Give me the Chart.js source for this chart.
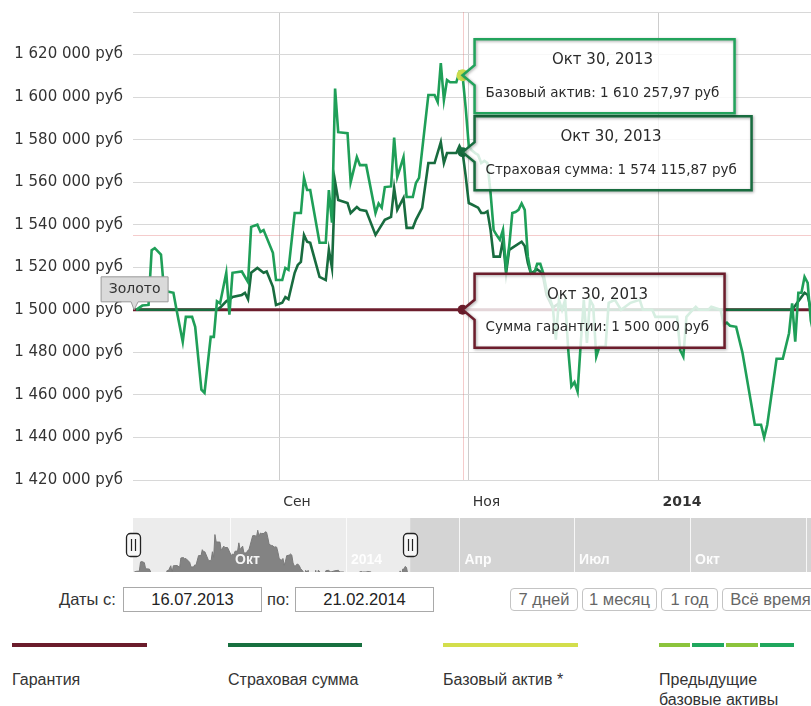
<!DOCTYPE html>
<html>
<head>
<meta charset="utf-8">
<script src="https://cdn.jsdelivr.net/npm/chart.js@4.4.0/dist/chart.umd.min.js"></script>
<style>
  body { margin: 0; width: 811px; height: 706px; overflow: hidden; background: #fff; position: relative;
         font-family: "Liberation Sans", Arial, sans-serif; color: #333; }
  #main { position: absolute; left: 0; top: -7px; }
  #nav { position: absolute; left: 0; top: 518px; }
  .txt { position: absolute; font-size: 16.5px; white-space: nowrap; }
  .inp { position: absolute; height: 23px; line-height: 23px; border: 1px solid #a9a9a9; text-align: center;
         font-size: 16.5px; color: #222; background: #fff; }
  .btn { position: absolute; top: 588px; height: 21px; line-height: 21px; border: 1px solid #c4c4c4; border-radius: 4px;
         font-size: 16.5px; color: #666; text-align: center; background: #fff; }
  .leg { position: absolute; top: 643px; height: 4px; }
  .legtxt { position: absolute; top: 670px; font-size: 16px; line-height: 20px; color: #333; }
</style>
</head>
<body>
<canvas id="main" width="817" height="522"></canvas>
<canvas id="nav" width="811" height="55"></canvas>

<div class="txt" style="left:59px;top:590px">Даты с:</div>
<div class="inp" id="from" style="left:123px;top:587px;width:137px"></div>
<div class="txt" style="left:267px;top:590px">по:</div>
<div class="inp" id="to" style="left:295px;top:587px;width:137px"></div>

<div class="leg" style="left:12px;width:135px;background:#6b1c2b"></div>
<div class="leg" style="left:228px;width:134px;background:#17703f"></div>
<div class="leg" style="left:443px;width:135px;background:#d3de4c"></div>
<div class="leg" style="left:659px;width:135px;background:linear-gradient(to right,#8cc43c 0 31px,#fff 31px 33px,#1fa75d 33px 65px,#fff 65px 67px,#8cc43c 67px 99px,#fff 99px 101px,#1fa75d 101px 135px)"></div>
<div class="legtxt" style="left:12px">Гарантия</div>
<div class="legtxt" style="left:228px">Страховая сумма</div>
<div class="legtxt" style="left:443px">Базовый актив *</div>
<div class="legtxt" style="left:659px">Предыдущие<br>базовые активы</div>

<script>
// days counted from 16.07.2013
const baseDays = [1, 3, 5, 6, 7, 9, 10, 13, 14, 16, 17, 19, 20, 22, 23, 25, 26, 27, 28, 30,
  31, 32, 35, 37, 38, 40, 41, 42, 45, 46, 48, 49, 50, 52, 54, 55, 56, 57, 60, 62,
  63, 64, 65, 66, 69, 70, 72, 73, 75, 78, 79, 80, 81, 83, 84, 85, 87, 88, 90, 91,
  92, 95, 97, 98, 99, 100, 101, 102, 104, 105, 106, 107, 108, 109, 110, 111, 112, 113, 114, 115,
  116, 117, 118, 119, 120, 121, 122, 123, 124, 125, 126, 127, 128, 129, 130, 131, 132, 133, 135, 136,
  137, 138, 139, 140, 141, 142, 143, 144, 145, 146, 147, 148, 149, 150, 152, 153, 155, 157, 160, 163,
  164, 167, 168, 175, 176, 177, 178, 180, 181, 182, 185, 186, 189, 190, 191, 192, 194, 196, 200, 202,
  203, 204, 207, 209, 211, 212, 213, 214, 215, 216, 217, 218, 219];
const baseValues = [1500000, 1502000, 1502300, 1528000, 1529000, 1526000, 1509000, 1508000, 1500000, 1485000,
  1496700, 1496700, 1492000, 1462500, 1461000, 1487300, 1487300, 1504000, 1503000, 1517400,
  1497700, 1517400, 1518000, 1513000, 1539000, 1540000, 1536600, 1537500, 1526800, 1514000,
  1514000, 1519700, 1518800, 1545500, 1545500, 1562000, 1556300, 1556300, 1531500, 1531500,
  1556300, 1541000, 1604000, 1583500, 1583000, 1560000, 1571800, 1568000, 1568000, 1545500,
  1550000, 1548000, 1557700, 1558000, 1581000, 1562400, 1571800, 1553000, 1553000, 1559600,
  1562000, 1601000, 1601000, 1597700, 1616000, 1598600, 1608000, 1607000, 1607000, 1611700,
  1610257.97, 1595000, 1577000, 1575000, 1573700, 1572800, 1569000, 1570000, 1569000, 1555000,
  1537500, 1535000, 1532900, 1537600, 1519000, 1530000, 1545500, 1546000, 1547000, 1550000,
  1547000, 1525000, 1517000, 1517000, 1521600, 1521600, 1517000, 1509400, 1501500, 1486000,
  1504700, 1500000, 1504700, 1481000, 1464000, 1466000, 1461500, 1484000, 1504700, 1484500,
  1504700, 1502000, 1478000, 1482600, 1482600, 1503300, 1504700, 1500000, 1503300, 1504700,
  1500000, 1500000, 1496700, 1496700, 1481000, 1478000, 1496700, 1500000, 1501400, 1500000,
  1500000, 1501400, 1500000, 1493000, 1494000, 1492500, 1492000, 1480000, 1446000, 1446000,
  1440000, 1446000, 1477000, 1477000, 1489000, 1503000, 1485000, 1508000, 1508000, 1515500,
  1512700, 1495000, 1488000];

const insuredDays = [1, 27, 28, 30, 32, 35, 36, 37, 38, 40, 42, 43, 45, 46, 48, 49, 50, 52, 53, 54,
  55, 56, 57, 60, 62, 63, 64, 65, 66, 69, 70, 72, 73, 75, 78, 79, 81, 83, 84, 85,
  87, 88, 90, 91, 93, 95, 97, 99, 100, 101, 104, 105, 106, 107, 108, 109, 111, 112, 113, 114,
  115, 116, 118, 119, 120, 121, 125, 126, 127, 128, 130, 131, 132, 133, 135, 137, 138, 212, 214, 216,
  217, 218, 219];
const insuredValues = [1500000, 1500000, 1501000, 1504000, 1506000, 1507000, 1508000, 1505000, 1517400, 1519700,
  1517400, 1518000, 1510800, 1502300, 1503300, 1506000, 1505000, 1517400, 1521100, 1522500,
  1535200, 1532000, 1531500, 1515500, 1514000, 1528200, 1519700, 1560200, 1551600, 1550200,
  1545500, 1548300, 1547000, 1546500, 1535200, 1537600, 1542300, 1543700, 1557300, 1547000,
  1552600, 1538500, 1538500, 1542300, 1547900, 1569000, 1569000, 1578800, 1569000, 1573700,
  1573700, 1577000, 1574115.87, 1563000, 1550200, 1549500, 1548000, 1545500, 1545500, 1546300,
  1537600, 1525000, 1525000, 1532900, 1517200, 1528200, 1532000, 1530000, 1522000, 1517000,
  1519000, 1518000, 1515000, 1507000, 1501000, 1503000, 1500000, 1500000, 1504000, 1508000,
  1507000, 1500000, 1500000];

const guaranteeDays = [0, 106, 220];
const guaranteeValues = [1500000, 1500000, 1500000];

const xTickDays = [47, 108, 169];
const xTickLabels = ['Сен', 'Ноя', '2014'];
const navTickDays = [77, 169, 259, 350, 442, 534];
const navTickLabels = ['Окт', '2014', 'Апр', 'Июл', 'Окт', ''];

const hoverDay = 106;
const hoverTitle = 'Окт 30, 2013';
const crosshairValue = 1535000;
const flagDay = 1;
const flagText = 'Золото';
const rangeFrom = '16.07.2013';
const rangeTo = '21.02.2014';
const rangeButtons = ['7 дней', '1 месяц', '1 год', 'Всё время'];

const BASE = '#1f9f58', INSURED = '#186c3f', GUAR = '#6c1d2c';

function rub(v) {
  let [i, f] = v.toFixed(2).split('.');
  i = i.replace(/\B(?=(\d{3})+(?!\d))/g, ' ');
  return (f === '00' ? i : i + ',' + f) + ' руб';
}
function pts(days, vals) { return days.map((d, i) => ({ x: d, y: vals[i] })); }

document.getElementById('from').textContent = rangeFrom;
document.getElementById('to').textContent = rangeTo;
const btnLeft = [510, 582, 661, 722], btnW = [66, 73, 55, 95];
rangeButtons.forEach((b, i) => {
  const el = document.createElement('div');
  el.className = 'btn';
  el.style.left = btnLeft[i] + 'px';
  el.style.width = btnW[i] + 'px';
  el.textContent = b;
  document.body.appendChild(el);
});

function valueAt(ds, day) {
  const p = ds.data.find(d => d.x === day);
  return p ? p.y : ds.data[0].y;
}

function drawCallout(ctx, ax, ay, title, body, color) {
  ctx.save();
  ctx.font = '13.5px "DejaVu Sans"';
  const bw = ctx.measureText(body).width;
  const left = ax + 12, top = ay - 36, w = Math.round(bw + 26), h = 74;
  ctx.beginPath();
  ctx.moveTo(left, top);
  ctx.lineTo(left + w, top);
  ctx.lineTo(left + w, top + h);
  ctx.lineTo(left, top + h);
  ctx.lineTo(left, ay + 10);
  ctx.lineTo(ax, ay);
  ctx.lineTo(left, ay - 10);
  ctx.closePath();
  ctx.fillStyle = 'rgba(255,255,255,0.82)';
  ctx.fill();
  ctx.shadowColor = 'rgba(0,0,0,0.35)';
  ctx.shadowBlur = 3;
  ctx.shadowOffsetX = 1;
  ctx.shadowOffsetY = 1;
  ctx.lineWidth = 2.5;
  ctx.strokeStyle = color;
  ctx.stroke();
  ctx.shadowColor = 'transparent';
  ctx.fillStyle = '#2a2a2a';
  ctx.textBaseline = 'middle';
  ctx.textAlign = 'left';
  ctx.fillText(body, left + 11, top + 54);
  ctx.font = '15px "DejaVu Sans"';
  ctx.textAlign = 'center';
  ctx.fillText(title, left + w / 2 - 2, top + 21);
  ctx.restore();
}

const overlay = {
  id: 'overlay',
  beforeDatasetsDraw(chart) {
    const { ctx, chartArea: a, scales: { x, y } } = chart;
    ctx.save();
    ctx.strokeStyle = 'rgba(225,110,110,0.35)';
    ctx.lineWidth = 1;
    const cx = Math.round(x.getPixelForValue(hoverDay)) + 0.5;
    const cy = Math.round(y.getPixelForValue(crosshairValue)) + 0.5;
    ctx.beginPath();
    ctx.moveTo(cx, a.top); ctx.lineTo(cx, a.bottom);
    ctx.moveTo(a.left, cy); ctx.lineTo(a.right, cy);
    ctx.stroke();
    ctx.restore();
  },
  afterDatasetsDraw(chart) {
    const { ctx, scales: { x, y } } = chart;
    const ds = chart.data.datasets;
    // flag
    const fx = x.getPixelForValue(flagDay), fy = y.getPixelForValue(valueAt(ds[0], flagDay));
    ctx.save();
    const l = fx - 35, r = fx + 32, t = fy - 33, b = fy - 8;
    ctx.beginPath();
    ctx.moveTo(l, t); ctx.lineTo(r, t); ctx.lineTo(r, b);
    ctx.lineTo(fx + 2, b); ctx.lineTo(fx - 2, fy); ctx.lineTo(fx - 5, b);
    ctx.lineTo(l, b); ctx.closePath();
    ctx.fillStyle = '#dadada'; ctx.fill();
    ctx.strokeStyle = '#9a9a9a'; ctx.lineWidth = 1; ctx.stroke();
    ctx.fillStyle = '#333';
    ctx.font = '14px "DejaVu Sans"';
    ctx.textAlign = 'center'; ctx.textBaseline = 'middle';
    ctx.fillText(flagText, (l + r) / 2, (t + b) / 2);
    ctx.restore();

    const hx = x.getPixelForValue(hoverDay);
    const names = ['Базовый актив', 'Страховая сумма', 'Сумма гарантии'];
    const cols = ['#22a35c', INSURED, GUAR];
    for (let i = 2; i >= 0; i--) {
      const v = valueAt(ds[i], hoverDay);
      drawCallout(ctx, hx, y.getPixelForValue(v), hoverTitle, names[i] + ': ' + rub(v), cols[i]);
    }
  }
};

function hoverRadius(r) { return c => (c.raw && c.raw.x === hoverDay ? r : 0); }

new Chart(document.getElementById('main'), {
  type: 'line',
  data: {
    datasets: [
      { data: pts(baseDays, baseValues), borderColor: BASE, borderWidth: 2.6, pointRadius: hoverRadius(6),
        pointBackgroundColor: '#c9dc4c', pointBorderWidth: 0 },
      { data: pts(insuredDays, insuredValues), borderColor: INSURED, borderWidth: 2.6, pointRadius: hoverRadius(5),
        pointBackgroundColor: INSURED, pointBorderWidth: 0 },
      { data: pts(guaranteeDays, guaranteeValues), borderColor: GUAR, borderWidth: 3,
        pointRadius: hoverRadius(5), pointBackgroundColor: GUAR, pointBorderWidth: 0 }
    ]
  },
  options: {
    responsive: false,
    animation: false,
    events: [],
    // plot top lands at 19px in the canvas whatever the padding; canvas is shifted up 7px
    layout: { autoPadding: false, padding: { top: 12, left: 0, right: 0, bottom: 0 } },
    scales: {
      x: {
        type: 'linear', min: 0, max: 220,
        afterBuildTicks: s => { s.ticks = xTickDays.map(v => ({ value: v })); },
        afterFit: s => { s.height = 35; },
        grid: { color: '#cdcdcd', drawTicks: false },
        border: { display: false },
        ticks: {
          autoSkip: false, maxRotation: 0, align: 'start', labelOffset: 4, padding: 14,
          color: '#333',
          callback: (v, i) => xTickLabels[i],
          font: c => ({ family: 'DejaVu Sans', size: 14,
            weight: c.tick && /^\d+$/.test(xTickLabels[c.index]) ? 'bold' : 'normal' })
        }
      },
      y: {
        min: 1420000, max: 1640000,
        afterFit: s => { s.width = 133; },
        grid: { color: '#d8d8d8', drawTicks: false },
        border: { display: false },
        ticks: {
          stepSize: 20000, padding: 10, color: '#333',
          font: { family: 'DejaVu Sans', size: 15 },
          callback: v => (v === 1640000 ? '' : rub(v))
        }
      }
    },
    plugins: { legend: { display: false }, tooltip: { enabled: false } }
  },
  plugins: [overlay]
});

const navPlugin = {
  id: 'navdeco',
  beforeDatasetsDraw(chart) {
    const { ctx, chartArea: a, scales: { x } } = chart;
    ctx.save();
    ctx.fillStyle = '#d4d4d4';
    ctx.fillRect(a.left, a.top, a.right - a.left, a.bottom - a.top);
    ctx.fillStyle = '#ececec';
    const sel = x.getPixelForValue(guaranteeDays[guaranteeDays.length - 1]);
    ctx.fillRect(a.left, a.top, sel - a.left, a.bottom - a.top);
    ctx.strokeStyle = 'rgba(255,255,255,0.8)';
    ctx.lineWidth = 1;
    navTickDays.forEach(d => {
      const px = Math.round(x.getPixelForValue(d)) + 0.5;
      ctx.beginPath(); ctx.moveTo(px, a.top); ctx.lineTo(px, a.bottom); ctx.stroke();
    });
    ctx.restore();
  },
  afterDatasetsDraw(chart) {
    const { ctx, chartArea: a, scales: { x } } = chart;
    ctx.save();
    ctx.font = 'bold 14px "Liberation Sans"';
    ctx.fillStyle = 'rgba(255,255,255,0.92)';
    ctx.textBaseline = 'middle';
    navTickDays.forEach((d, i) => ctx.fillText(navTickLabels[i], x.getPixelForValue(d) + 5, a.top + 42));
    [guaranteeDays[0], guaranteeDays[guaranteeDays.length - 1]].forEach(d => {
      const hx = Math.round(x.getPixelForValue(d));
      const l = hx - 7, t = a.top + 15, w = 14, h = 23;
      ctx.beginPath();
      ctx.roundRect(l + 0.5, t + 0.5, w, h, 4);
      ctx.fillStyle = '#f7f7f7'; ctx.fill();
      ctx.strokeStyle = '#222'; ctx.lineWidth = 1.3; ctx.stroke();
      ctx.beginPath();
      ctx.moveTo(hx - 1.5, t + 6); ctx.lineTo(hx - 1.5, t + h - 5);
      ctx.moveTo(hx + 2.5, t + 6); ctx.lineTo(hx + 2.5, t + h - 5);
      ctx.lineWidth = 1.2; ctx.stroke();
    });
    ctx.restore();
  }
};

new Chart(document.getElementById('nav'), {
  type: 'line',
  data: { datasets: [{ data: pts(baseDays, baseValues), fill: 'start', backgroundColor: '#838383',
    borderColor: '#7a7a7a', borderWidth: 1, pointRadius: 0 }] },
  options: {
    responsive: false, animation: false, events: [],
    layout: { padding: { left: 133, top: 0, right: 0, bottom: 1 } },
    scales: {
      x: { type: 'linear', min: 0, max: 538, display: false },
      y: { min: 1500000, max: 1650000, display: false }
    },
    plugins: { legend: { display: false }, tooltip: { enabled: false } }
  },
  plugins: [navPlugin]
});
</script>
</body>
</html>
